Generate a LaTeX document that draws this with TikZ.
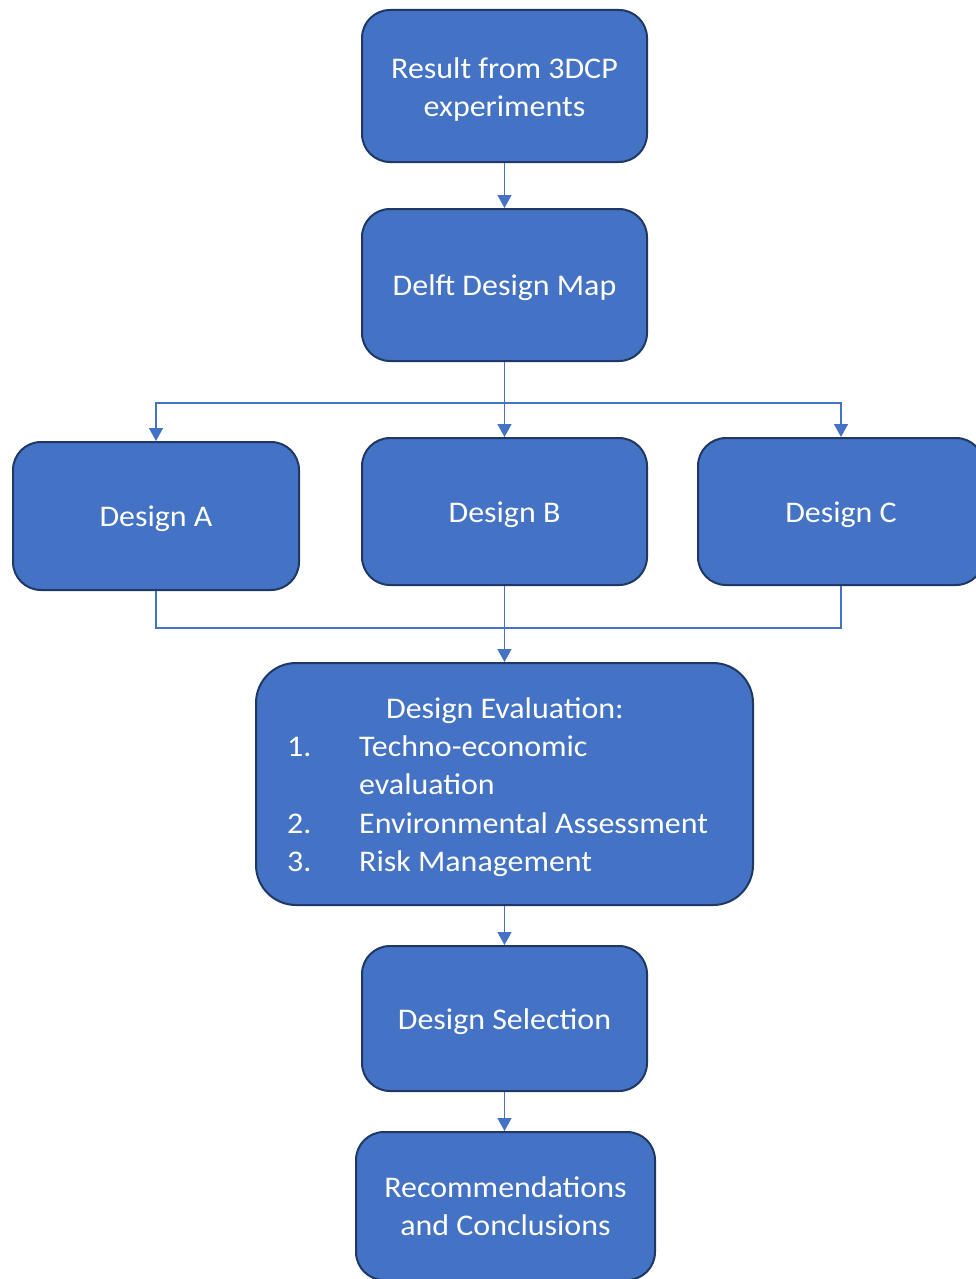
\documentclass[tikz,border=0pt]{standalone}
\usepackage{fontspec}
\setmainfont{Carlito}[FakeStretch=1.065]
\usetikzlibrary{arrows.meta}
\definecolor{boxfill}{HTML}{4472C4}
\definecolor{boxline}{RGB}{32,56,100}
\definecolor{conn}{HTML}{4472C4}
\newcommand\highstrut{\rule{0pt}{27pt}}
\tikzset{
  flowbox/.style={draw=boxline, line width=2pt, fill=boxfill, rounded corners=28pt,
    text=white, align=center, inner sep=0pt,
    font=\fontsize{30}{38}\selectfont},
  evtext/.style={text=white, inner sep=0pt, font=\fontsize{30}{38}\selectfont},
  link/.style={draw=conn, line width=1.5pt},
  linkarrow/.style={link, -{Triangle[width=14pt,length=13pt]}}
}
\begin{document}
\begin{tikzpicture}[x=1pt,y=-1pt]
\useasboundingbox (0,0) rectangle (976,1279);
% boxes
\node[flowbox, minimum width=285pt, minimum height=152pt] (res) at (504.5,86) {\highstrut Result from 3DCP\\experiments};
\node[flowbox, minimum width=285pt, minimum height=152pt] (delft) at (504.5,285) {\highstrut Delft Design Map};
\node[flowbox, minimum width=286pt, minimum height=148pt] (a) at (156,516) {\highstrut Design A};
\node[flowbox, minimum width=285pt, minimum height=147pt] (b) at (504.5,511.5) {\highstrut Design B};
\node[flowbox, minimum width=286pt, minimum height=147pt] (c) at (841,511.5) {\highstrut Design C};
\node[flowbox, rounded corners=40pt, minimum width=497pt, minimum height=242pt] (ev) at (504.5,784) {};
\node[flowbox, minimum width=285pt, minimum height=145pt] (sel) at (504.5,1018.5) {\highstrut Design Selection};
\node[flowbox, minimum width=299pt, minimum height=148pt] (rec) at (505.5,1206) {Recommendations\\and Conclusions};
% evaluation text
\node[evtext, anchor=base] (evt) at (505,718) {Design Evaluation:};
\node[evtext, anchor=base west] (n1) at (287,756) {1.};
\node[evtext, anchor=base west] (t1) at (359,756) {Techno-economic};
\node[evtext, anchor=base west] (t1b) at (359,794) {evaluation};
\node[evtext, anchor=base west] (n2) at (287,833) {2.};
\node[evtext, anchor=base west] (t2) at (359,833) {Environmental Assessment};
\node[evtext, anchor=base west] (n3) at (287,871) {3.};
\node[evtext, anchor=base west] (t3) at (359,871) {Risk Management};
% connectors
\coordinate (split) at (504.5,403);
\coordinate (merge) at (504.5,628);
\draw[linkarrow] (res.south) -- (delft.north);
\draw[linkarrow] (delft.south) -- (b.north);
\draw[linkarrow] (split) -| (a.north);
\draw[linkarrow] (split) -| (c.north);
\draw[link] (a.south) |- (merge);
\draw[link] (c.south) |- (merge);
\draw[linkarrow] (b.south) -- (ev.north);
\draw[linkarrow] (ev.south) -- (sel.north);
\draw[linkarrow] (sel.south) -- (sel.south |- rec.north);
\end{tikzpicture}
\end{document}
